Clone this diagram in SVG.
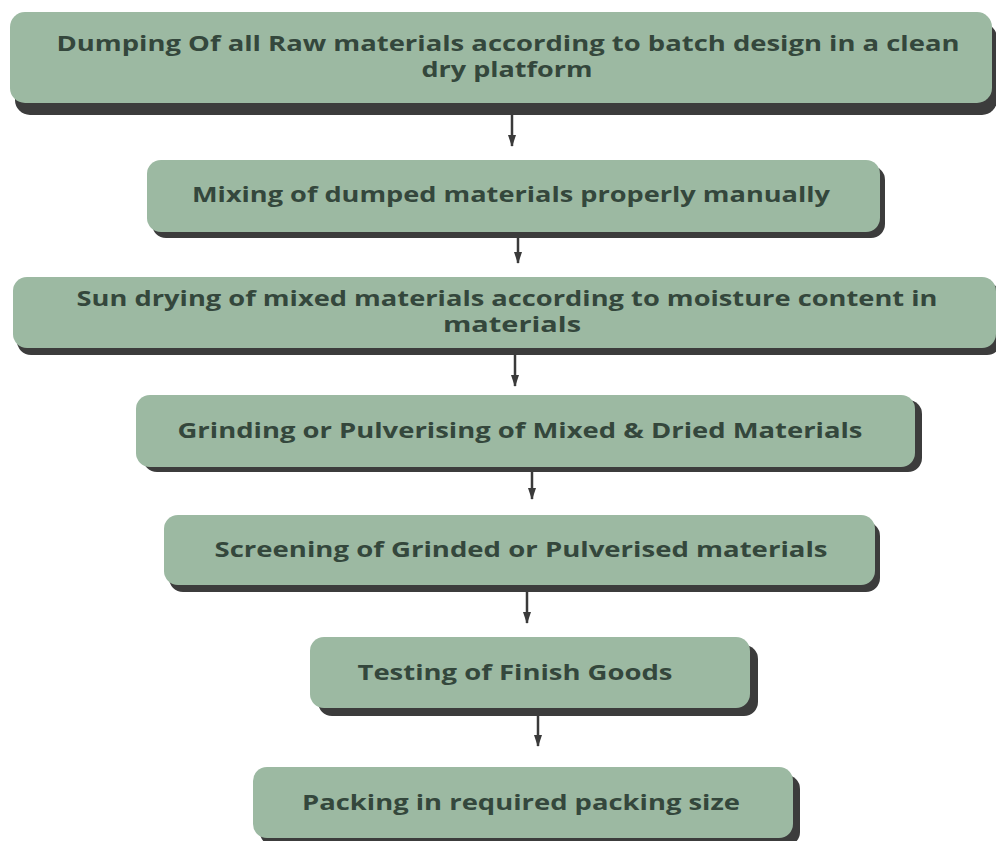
<svg xmlns="http://www.w3.org/2000/svg" width="996" height="841" viewBox="0 0 996 841">
<style>
.box{fill:#9cb9a2}
.sh{fill:#3c3c3c}
.t{font-family:"Open Sans","Liberation Sans",sans-serif;font-weight:700;font-size:21px;fill:#34473c;text-anchor:middle}
.c{stroke:#3a3a3a;stroke-width:2.5;fill:none}
</style>
<defs>
<marker id="ah" viewBox="0 0 12 8" refX="11" refY="4" markerWidth="12" markerHeight="8" markerUnits="userSpaceOnUse" orient="auto">
<path d="M0,0 L12,4 L0,8 Z" fill="#3a3a3a"/>
</marker>
</defs>
<rect width="996" height="841" fill="#ffffff"/>
<g id="n1">
<rect class="sh" x="15" y="23" width="982" height="92" rx="15"/>
<rect class="box" x="10" y="12" width="982" height="91" rx="15"/>
<text class="t" x="508" y="51" textLength="903" lengthAdjust="spacingAndGlyphs">Dumping Of all Raw materials according to batch design in a clean</text>
<text class="t" x="507" y="77" textLength="171" lengthAdjust="spacingAndGlyphs">dry platform</text>
</g>
<g id="n2">
<rect class="sh" x="152" y="166" width="733" height="72" rx="14"/>
<rect class="box" x="147" y="160" width="733" height="72" rx="14"/>
<text class="t" x="511" y="202" textLength="638" lengthAdjust="spacingAndGlyphs">Mixing of dumped materials properly manually</text>
</g>
<g id="n3">
<rect class="sh" x="17" y="283" width="984" height="72" rx="14"/>
<rect class="box" x="13" y="277" width="983" height="71" rx="14"/>
<text class="t" x="507" y="306" textLength="861" lengthAdjust="spacingAndGlyphs">Sun drying of mixed materials according to moisture content in</text>
<text class="t" x="512" y="332" textLength="138" lengthAdjust="spacingAndGlyphs">materials</text>
</g>
<g id="n4">
<rect class="sh" x="143" y="400" width="779" height="72" rx="14"/>
<rect class="box" x="136" y="395" width="779" height="72" rx="14"/>
<text class="t" x="520" y="438" textLength="685" lengthAdjust="spacingAndGlyphs">Grinding or Pulverising of Mixed &amp; Dried Materials</text>
</g>
<g id="n5">
<rect class="sh" x="169" y="522" width="711" height="70" rx="14"/>
<rect class="box" x="164" y="515" width="711" height="70" rx="14"/>
<text class="t" x="521" y="557" textLength="613" lengthAdjust="spacingAndGlyphs">Screening of Grinded or Pulverised materials</text>
</g>
<g id="n6">
<rect class="sh" x="318" y="645" width="440" height="71" rx="14"/>
<rect class="box" x="310" y="637" width="440" height="71" rx="14"/>
<text class="t" x="515" y="680" textLength="315" lengthAdjust="spacingAndGlyphs">Testing of Finish Goods</text>
</g>
<g id="n7">
<rect class="sh" x="260" y="775" width="540" height="71" rx="14"/>
<rect class="box" x="253" y="767" width="540" height="71" rx="14"/>
<text class="t" x="521" y="810" textLength="438" lengthAdjust="spacingAndGlyphs">Packing in required packing size</text>
</g>
<g id="connectors">
<line class="c" x1="512" y1="115" x2="512" y2="146" marker-end="url(#ah)"/>
<line class="c" x1="518" y1="238" x2="518" y2="263" marker-end="url(#ah)"/>
<line class="c" x1="515" y1="355" x2="515" y2="386" marker-end="url(#ah)"/>
<line class="c" x1="532" y1="472" x2="532" y2="499" marker-end="url(#ah)"/>
<line class="c" x1="527" y1="592" x2="527" y2="623" marker-end="url(#ah)"/>
<line class="c" x1="538" y1="716" x2="538" y2="746" marker-end="url(#ah)"/>
</g>
</svg>
